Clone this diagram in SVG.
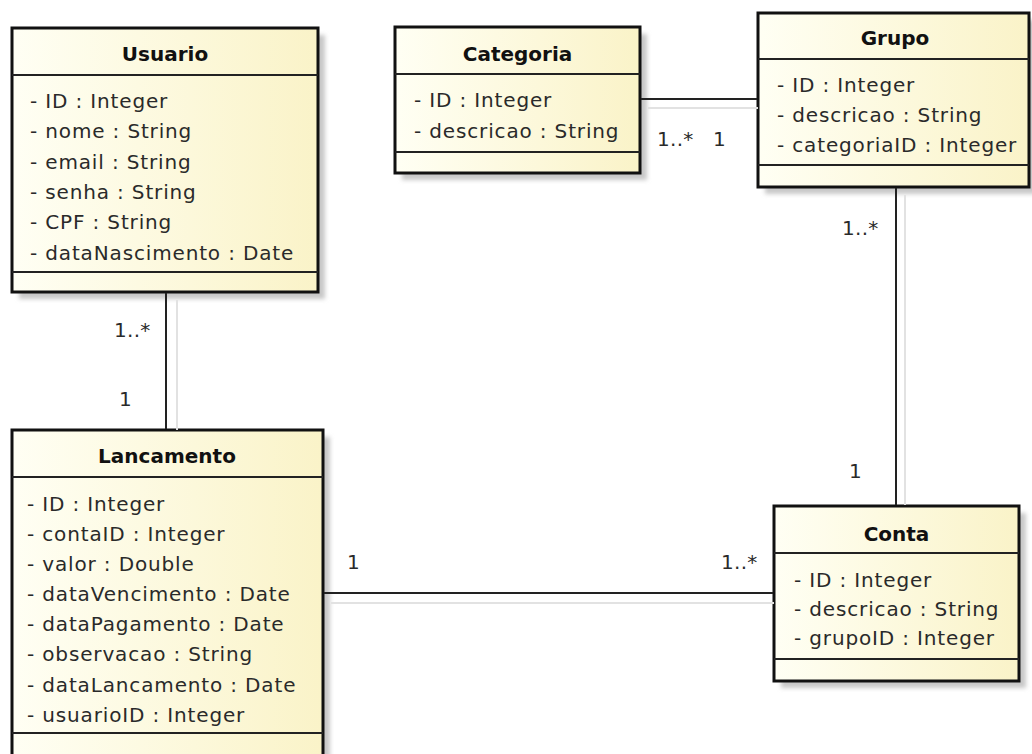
<svg xmlns="http://www.w3.org/2000/svg" width="1032" height="754" viewBox="0 0 1032 754">
  <defs>
    <linearGradient id="fill" x1="0" y1="0" x2="1" y2="0">
      <stop offset="0" stop-color="#fffff4"/>
      <stop offset="1" stop-color="#faf3c8"/>
    </linearGradient>
    <filter id="blur" x="-5%" y="-5%" width="110%" height="110%">
      <feGaussianBlur stdDeviation="2"/>
    </filter>
  </defs>
  <style>
    .shadow { fill: #c8c8c8; filter: url(#blur); }
    .box { fill: url(#fill); stroke: #111; stroke-width: 3; }
    .div { stroke: #222; stroke-width: 2; }
    .title { font-family: "DejaVu Sans", sans-serif; font-weight: bold; font-size: 20px; fill: #111; text-anchor: middle; }
    .attr { font-family: "DejaVu Sans", sans-serif; font-size: 20px; letter-spacing: 0.85px; fill: #2a2a2a; }
    .lbl { font-family: "DejaVu Sans", sans-serif; font-size: 20px; fill: #2a2a2a; letter-spacing: 0.3px; }
    .conn { stroke: #222; stroke-width: 2; fill: none; }
    .connshadow { stroke: #e2e2e2; stroke-width: 2; fill: none; }
  </style>
  <rect width="1032" height="754" fill="#ffffff"/>

  <g id="usuario">
    <rect class="shadow" x="19" y="35" width="306" height="264"/>
    <rect class="box" x="12" y="28" width="306" height="264"/>
    <line class="div" x1="12" y1="75" x2="318" y2="75"/>
    <line class="div" x1="12" y1="272" x2="318" y2="272"/>
    <text class="title" x="165" y="61">Usuario</text>
    <text class="attr" x="30" y="108">- ID : Integer</text>
    <text class="attr" x="30" y="138">- nome : String</text>
    <text class="attr" x="30" y="169">- email : String</text>
    <text class="attr" x="30" y="199">- senha : String</text>
    <text class="attr" x="30" y="229">- CPF : String</text>
    <text class="attr" x="30" y="260">- dataNascimento : Date</text>
  </g>

  <g id="categoria">
    <rect class="shadow" x="402" y="34" width="245" height="146"/>
    <rect class="box" x="395" y="27" width="245" height="146"/>
    <line class="div" x1="395" y1="74" x2="640" y2="74"/>
    <line class="div" x1="395" y1="152" x2="640" y2="152"/>
    <text class="title" x="517.5" y="61">Categoria</text>
    <text class="attr" x="414" y="107">- ID : Integer</text>
    <text class="attr" x="414" y="138">- descricao : String</text>
  </g>

  <g id="grupo">
    <rect class="shadow" x="765" y="20" width="271" height="174"/>
    <rect class="box" x="758" y="13" width="271" height="174"/>
    <line class="div" x1="758" y1="59" x2="1029" y2="59"/>
    <line class="div" x1="758" y1="165" x2="1029" y2="165"/>
    <text class="title" x="895" y="45">Grupo</text>
    <text class="attr" x="777" y="92">- ID : Integer</text>
    <text class="attr" x="777" y="122">- descricao : String</text>
    <text class="attr" x="777" y="152">- categoriaID : Integer</text>
  </g>

  <g id="lancamento">
    <rect class="shadow" x="19" y="437" width="311" height="330"/>
    <rect class="box" x="12" y="430" width="311" height="330"/>
    <line class="div" x1="12" y1="477" x2="323" y2="477"/>
    <line class="div" x1="12" y1="733" x2="323" y2="733"/>
    <text class="title" x="167" y="463">Lancamento</text>
    <text class="attr" x="27" y="511">- ID : Integer</text>
    <text class="attr" x="27" y="541">- contaID : Integer</text>
    <text class="attr" x="27" y="571">- valor : Double</text>
    <text class="attr" x="27" y="601">- dataVencimento : Date</text>
    <text class="attr" x="27" y="631">- dataPagamento : Date</text>
    <text class="attr" x="27" y="661">- observacao : String</text>
    <text class="attr" x="27" y="692">- dataLancamento : Date</text>
    <text class="attr" x="27" y="722">- usuarioID : Integer</text>
  </g>

  <g id="conta">
    <rect class="shadow" x="781" y="513" width="245" height="175"/>
    <rect class="box" x="774" y="506" width="245" height="175"/>
    <line class="div" x1="774" y1="553" x2="1019" y2="553"/>
    <line class="div" x1="774" y1="659" x2="1019" y2="659"/>
    <text class="title" x="896.5" y="541">Conta</text>
    <text class="attr" x="794" y="587">- ID : Integer</text>
    <text class="attr" x="794" y="616">- descricao : String</text>
    <text class="attr" x="794" y="645">- grupoID : Integer</text>
  </g>

  <g id="connectors">
    <line class="connshadow" x1="648" y1="108" x2="758" y2="108"/>
    <line class="connshadow" x1="905" y1="195" x2="905" y2="505"/>
    <line class="connshadow" x1="177" y1="300" x2="177" y2="430"/>
    <line class="connshadow" x1="331" y1="603" x2="774" y2="603"/>
    <line class="conn" x1="641" y1="99" x2="757" y2="99"/>
    <line class="conn" x1="896" y1="188" x2="896" y2="505"/>
    <line class="conn" x1="166" y1="293" x2="166" y2="429"/>
    <line class="conn" x1="324" y1="593" x2="773" y2="593"/>
    <text class="lbl" x="657" y="146">1..*</text>
    <text class="lbl" x="713" y="146">1</text>
    <text class="lbl" x="842" y="235">1..*</text>
    <text class="lbl" x="849" y="478">1</text>
    <text class="lbl" x="114" y="337">1..*</text>
    <text class="lbl" x="119" y="406">1</text>
    <text class="lbl" x="347" y="569">1</text>
    <text class="lbl" x="721" y="569">1..*</text>
  </g>
</svg>
